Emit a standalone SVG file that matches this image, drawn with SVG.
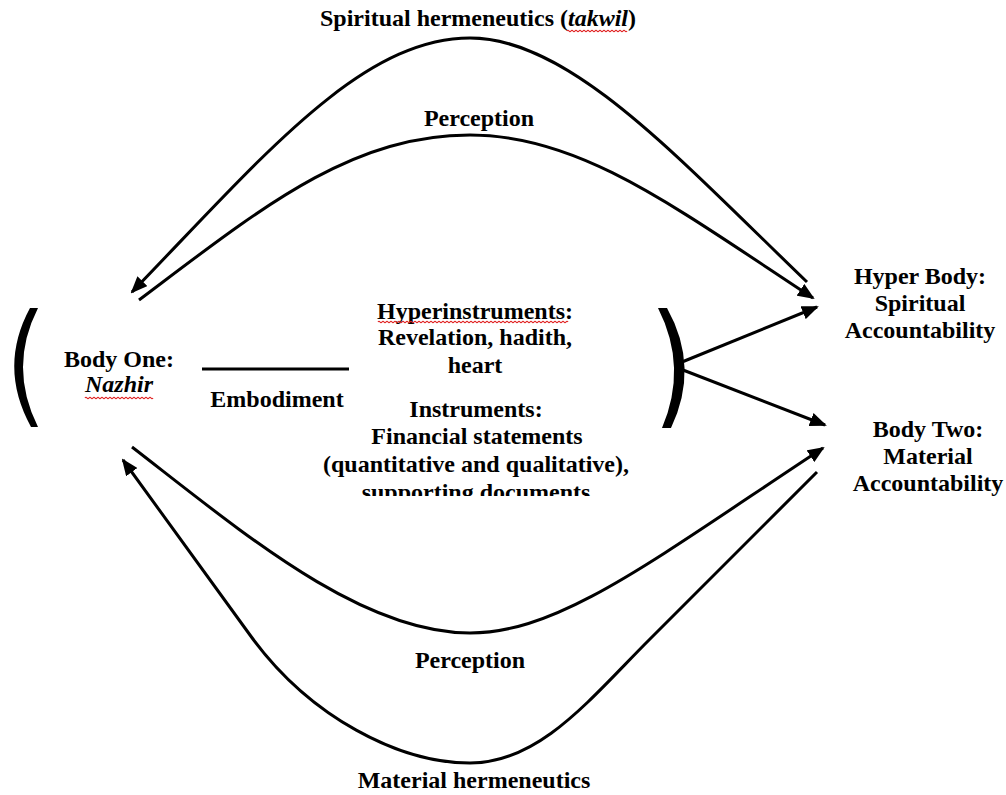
<svg xmlns="http://www.w3.org/2000/svg" width="1006" height="795" viewBox="0 0 1006 795">
<style>
  text { font-family: "Liberation Serif", "Times New Roman", serif; font-weight: bold; font-size: 24px; fill: #000; text-anchor: middle; }
  .it { font-style: italic; }
  .conn { fill: none; stroke: #000; stroke-width: 3; }
  .squig { fill: none; stroke: #e02020; stroke-width: 1.2; }
  .bracket { fill: #000; stroke: none; }
</style>
<defs>
  <marker id="arrow" markerUnits="userSpaceOnUse" viewBox="0 0 17 14" refX="15" refY="7" markerWidth="17" markerHeight="14" orient="auto">
    <path d="M0,0 L17,7 L0,14 Z" fill="#000"/>
  </marker>
  <clipPath id="clipDocs">
    <rect x="0" y="0" width="1006" height="496"/>
  </clipPath>
</defs>

<g id="connectors">
  <!-- outer top: Spiritual hermeneutics -->
  <path class="conn" d="M807,282 C677,157 570,38 470,38 C360,38 260,160 132,292" marker-end="url(#arrow)"/>
  <!-- inner top: Perception -->
  <path class="conn" d="M139,300 C260,209 350,135 470,135 C580,135 673,206 813,298" marker-end="url(#arrow)"/>
  <!-- inner bottom: Perception -->
  <path class="conn" d="M132,447 C242,532 360,633 470,633 C560,633 653,560 823,448" marker-end="url(#arrow)"/>
  <!-- outer bottom: Material hermeneutics -->
  <path class="conn" d="M817,472 L650,639 C590,699 540,763 470,763 C400,763 310,718 250,635 L123,460" marker-end="url(#arrow)"/>
  <!-- embodiment line -->
  <line class="conn" x1="202" y1="369" x2="349" y2="369"/>
  <!-- bracket arrows -->
  <line class="conn" x1="682" y1="362" x2="817" y2="307" marker-end="url(#arrow)"/>
  <line class="conn" x1="683" y1="370" x2="825" y2="425" marker-end="url(#arrow)"/>
</g>

<g id="bracket-left">
  <path class="bracket" d="M30,308 Q-2,367 31,427 L38,427 Q8,367 38,308 Z"/>
</g>
<g id="bracket-right">
  <path class="bracket" d="M658,308 Q688,367 662,428 L671,428 Q700,367 667,308 Z"/>
</g>

<g id="label-spiritual-hermeneutics">
  <text x="478" y="26">Spiritual hermeneutics (<tspan class="it">takwil</tspan>)</text>
  <path class="squig" d="M567,31 q1,-1.5 2,0 t2,0 t2,0 t2,0 t2,0 t2,0 t2,0 t2,0 t2,0 t2,0 t2,0 t2,0 t2,0 t2,0 t2,0 t2,0 t2,0 t2,0 t2,0 t2,0 t2,0 t2,0 t2,0 t2,0 t2,0 t2,0 t2,0 t2,0 t2,0 t2,0"/>
</g>

<g id="label-perception-top">
  <text x="479" y="126">Perception</text>
</g>

<g id="node-body-one">
  <text x="119" y="367">Body One:</text>
  <text x="119" y="392" class="it">Nazhir</text>
  <path class="squig" d="M85,398 q1,-1.5 2,0 t2,0 t2,0 t2,0 t2,0 t2,0 t2,0 t2,0 t2,0 t2,0 t2,0 t2,0 t2,0 t2,0 t2,0 t2,0 t2,0 t2,0 t2,0 t2,0 t2,0 t2,0 t2,0 t2,0 t2,0 t2,0 t2,0 t2,0 t2,0 t2,0 t2,0 t2,0 t2,0 t2,0"/>
</g>

<g id="label-embodiment">
  <text x="277" y="407">Embodiment</text>
</g>

<g id="node-instruments">
  <text x="475" y="319">Hyperinstruments:</text>
  <path class="squig" d="M378,322 q1,-1.5 2,0 t2,0 t2,0 t2,0 t2,0 t2,0 t2,0 t2,0 t2,0 t2,0 t2,0 t2,0 t2,0 t2,0 t2,0 t2,0 t2,0 t2,0 t2,0 t2,0 t2,0 t2,0 t2,0 t2,0 t2,0 t2,0 t2,0 t2,0 t2,0 t2,0 t2,0 t2,0 t2,0 t2,0 t2,0 t2,0 t2,0 t2,0 t2,0 t2,0 t2,0 t2,0 t2,0 t2,0 t2,0 t2,0 t2,0 t2,0 t2,0 t2,0 t2,0 t2,0 t2,0 t2,0 t2,0 t2,0 t2,0 t2,0 t2,0 t2,0 t2,0 t2,0 t2,0 t2,0 t2,0 t2,0 t2,0 t2,0 t2,0 t2,0 t2,0 t2,0 t2,0 t2,0 t2,0 t2,0 t2,0 t2,0 t2,0 t2,0 t2,0 t2,0 t2,0 t2,0 t2,0 t2,0 t2,0 t2,0 t2,0 t2,0 t2,0 t2,0 t2,0 t2,0 t2,0"/>
  <text x="475" y="345">Revelation, hadith,</text>
  <text x="475" y="373">heart</text>
  <text x="476" y="417">Instruments:</text>
  <text x="477" y="444">Financial statements</text>
  <text x="476" y="472">(quantitative and qualitative),</text>
  <text x="476" y="500" clip-path="url(#clipDocs)">supporting documents</text>
</g>

<g id="node-hyper-body">
  <text x="920" y="284">Hyper Body:</text>
  <text x="920" y="311">Spiritual</text>
  <text x="920" y="338">Accountability</text>
</g>

<g id="node-body-two">
  <text x="928" y="437">Body Two:</text>
  <text x="928" y="464">Material</text>
  <text x="928" y="491">Accountability</text>
</g>

<g id="label-perception-bottom">
  <text x="470" y="668">Perception</text>
</g>

<g id="label-material-hermeneutics">
  <text x="474" y="788">Material hermeneutics</text>
</g>
</svg>
